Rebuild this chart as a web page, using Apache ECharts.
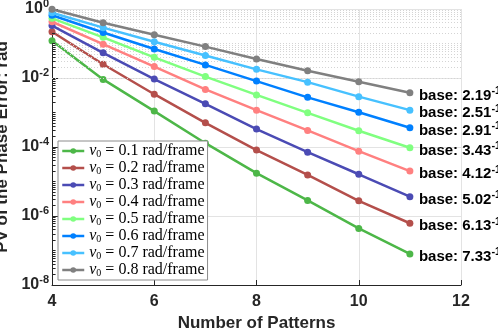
<!DOCTYPE html>
<html>
<head>
<meta charset="utf-8">
<script src="https://cdn.jsdelivr.net/npm/echarts@6/dist/echarts.min.js"></script>
<style>
  html, body { margin: 0; padding: 0; background: #ffffff; }
  #container { width: 498px; height: 331px; }
</style>
</head>
<body>
<div id="container"></div>
<script type="text/javascript">
    // patterns count on x
    var patterns = [4, 5, 6, 7, 8, 9, 10, 11];
    var speeds = ['0.1', '0.2', '0.3', '0.4', '0.5', '0.6', '0.7', '0.8'];
    var bases = ['7.33', '6.13', '5.02', '4.12', '3.43', '2.91', '2.51', '2.19'];
    var colors = ['#4db748', '#b44f4b', '#4b4bb4', '#ff8080', '#80ff80', '#0080ff', '#47c1ff', '#808080'];

    // PV error, one list per v0
    var pv01 = [0.120, 0.00912, 0.00110, 0.000129, 0.0000174, 0.00000282, 0.000000437, 0.0000000794];
    var pv02 = [0.219, 0.0251, 0.00339, 0.000501, 0.0000813, 0.0000155, 0.00000275, 0.000000617];
    var pv03 = [0.331, 0.0537, 0.00933, 0.00178, 0.000331, 0.0000708, 0.0000162, 0.00000363];
    var pv04 = [0.427, 0.0955, 0.0214, 0.00468, 0.00117, 0.000302, 0.0000759, 0.0000200];
    var pv05 = [0.537, 0.151, 0.0398, 0.0110, 0.00324, 0.000977, 0.000295, 0.0000955];
    var pv06 = [0.661, 0.209, 0.0692, 0.0240, 0.00813, 0.00275, 0.00102, 0.000363];
    var pv07 = [0.776, 0.288, 0.112, 0.0447, 0.0178, 0.00759, 0.00288, 0.00117];
    var pv08 = [0.98, 0.398, 0.180, 0.0813, 0.0355, 0.0162, 0.00776, 0.00372];
    var pvList = [pv01, pv02, pv03, pv04, pv05, pv06, pv07, pv08];

    var xTicks = [4, 6, 8, 10, 12];

    var dom = document.getElementById("container");
    var myChart = echarts.init(dom, null, {renderer: 'canvas'});

    var axisColor = '#262626';
    var sans = 'Liberation Sans, Arial, sans-serif';
    var serif = 'Liberation Serif, DejaVu Serif, serif';

    // minor log grid lines / ticks (2..9 x 10^e, odd decades)
    var minorVals = [];
    for (var e = -8; e < 0; e++) {
        for (var k = 1; k <= 9; k++) {
            if (k == 1 && e % 2 == 0) continue;
            minorVals.push(k * Math.pow(10, e));
        }
    }
    var minorGrid = minorVals.map(function (v) { return {yAxis: v}; });
    var minorTicks = minorVals.map(function (v) { return [{coord: [4, v]}, {coord: [4.07, v]}]; });

    var seriesData = [];
    var legendNames = [];
    for (var i = 0; i < pvList.length; i++) {
        var name = 'v0 = ' + speeds[i] + ' rad/frame';
        legendNames.push(name);
        seriesData.push({
            name: name,
            type: 'line',
            data: patterns.map(function (x, j) { return [x, pvList[i][j]]; }),
            symbol: 'circle',
            symbolSize: 7,
            lineStyle: {width: 2.5, color: colors[i]},
            itemStyle: {color: colors[i]},
            z: 3 + i,
            endLabel: {
                show: true,
                distance: 9,
                offset: [0, 3],
                formatter: '{b|base: ' + bases[i] + '}{s|-1}',
                rich: {
                    b: {fontFamily: sans, fontWeight: 'bold', fontSize: 15, color: '#000'},
                    s: {fontFamily: sans, fontWeight: 'bold', fontSize: 11, color: '#000', padding: [0, 0, 9, 0]}
                }
            }
        });
    }
    seriesData.push({
        name: 'grid',
        type: 'line',
        data: [],
        silent: true,
        markLine: {
            silent: true,
            symbol: 'none',
            label: {show: false},
            lineStyle: {type: [1, 2], color: '#d4d4d4', width: 1},
            data: minorGrid
        }
    });
    seriesData.push({
        name: 'ticks',
        type: 'line',
        data: [],
        silent: true,
        markLine: {
            silent: true,
            symbol: 'none',
            label: {show: false},
            lineStyle: {type: 'solid', color: axisColor, width: 1},
            data: minorTicks
        }
    });

    option = {
        animation: false,
        grid: {left: 52, right: 37, top: 9, bottom: 46, containLabel: false, outerBoundsMode: 'none'},
        legend: {
            data: legendNames,
            orient: 'vertical',
            left: 58,
            top: 141,
            itemWidth: 22,
            itemHeight: 7,
            itemGap: 1,
            padding: [2, 3, 2, 3],
            backgroundColor: '#ffffff',
            borderColor: '#8c8c8c',
            borderWidth: 1,
            lineStyle: {width: 2.5},
            formatter: function (n) {
                var sp = n.split(' = ')[1];
                return '{i|v}{s|0}{t| = ' + sp + '}';
            },
            textStyle: {
                fontFamily: serif,
                fontSize: 16,
                color: '#000',
                rich: {
                    i: {fontFamily: serif, fontStyle: 'italic', fontSize: 16, color: '#000', lineHeight: 16},
                    s: {fontFamily: serif, fontSize: 10, color: '#000', padding: [6, 0, 0, 0]},
                    t: {fontFamily: serif, fontSize: 16, color: '#000', lineHeight: 16}
                }
            }
        },
        xAxis: {
            type: 'value',
            min: 4,
            max: 12,
            interval: 2,
            name: 'Number of Patterns',
            nameLocation: 'middle',
            nameGap: 29,
            nameTextStyle: {fontFamily: sans, fontWeight: 'bold', fontSize: 17, color: axisColor},
            axisLine: {lineStyle: {color: axisColor, width: 1}},
            axisTick: {inside: true, length: 5, lineStyle: {color: axisColor}},
            axisLabel: {
                fontFamily: sans, fontWeight: 'bold', fontSize: 16, color: axisColor, margin: 9,
                formatter: function (v) { return xTicks.indexOf(v) >= 0 ? String(v) : ''; }
            },
            splitLine: {show: true, lineStyle: {color: '#e3e3e3', width: 1}}
        },
        yAxis: {
            type: 'log',
            logBase: 10,
            min: 1e-8,
            max: 1,
            interval: 2,
            name: 'PV of the Phase Error: rad',
            nameLocation: 'middle',
            nameGap: 35,
            nameTextStyle: {fontFamily: sans, fontWeight: 'bold', fontSize: 17, color: axisColor},
            axisLine: {show: true, lineStyle: {color: axisColor, width: 1}},
            axisTick: {show: true, inside: true, length: 6, lineStyle: {color: axisColor}},
            axisLabel: {
                margin: 3,
                formatter: function (v) {
                    var ex = Math.round(Math.log10(v));
                    return '{b|10}{s|' + ex + '}';
                },
                rich: {
                    b: {fontFamily: sans, fontWeight: 'bold', fontSize: 16, color: axisColor},
                    s: {fontFamily: sans, fontWeight: 'bold', fontSize: 11, color: axisColor, padding: [0, 0, 10, 0]}
                }
            },
            splitLine: {show: true, lineStyle: {color: '#e3e3e3', width: 1}}
        },
        series: seriesData
    };
    if (option && typeof option === "object") {
        myChart.setOption(option, true);
    }
</script>
</body>
</html>
